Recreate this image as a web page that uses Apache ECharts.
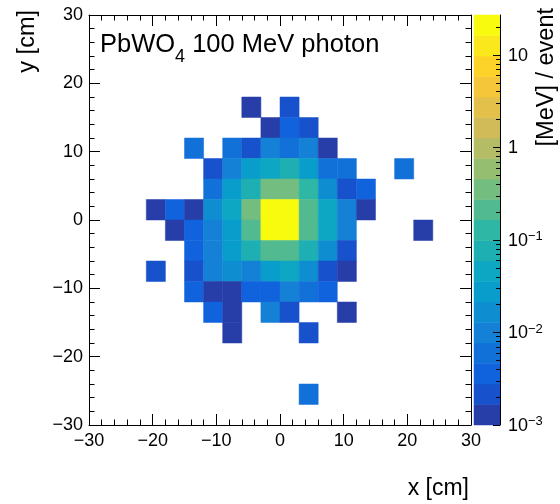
<!DOCTYPE html>
<html><head><meta charset="utf-8">
<script src="https://cdn.jsdelivr.net/npm/echarts@6/dist/echarts.min.js"></script>
<style>html,body{margin:0;padding:0;background:#fff}#c{width:560px;height:504px}</style>
</head><body><div id="c"></div>
<script>
// ---- data (bin lower edges in cm, energy deposit in MeV/event) ----
const binW = 3;
const cellX = [
  -6, 0,
  -3, 0, 3,
  -15, -9, -6, -3, 0, 3, 6,
  -12, -9, -6, -3, 0, 3, 6, 9, 18,
  -12, -9, -6, -3, 0, 3, 6, 9, 12,
  -21, -18, -15, -12, -9, -6, -3, 0, 3, 6, 9, 12,
  -18, -15, -12, -9, -6, -3, 0, 3, 6, 9, 21,
  -15, -12, -9, -6, -3, 0, 3, 6, 9,
  -21, -15, -12, -9, -6, -3, 0, 3, 6, 9,
  -15, -12, -9, -6, -3, 0, 3, 6,
  -12, -9, -3, 0, 9,
  -9, 3,
  3
];
const cellY = [
  15, 15,
  12, 12, 12,
  9, 9, 9, 9, 9, 9, 9,
  6, 6, 6, 6, 6, 6, 6, 6, 6,
  3, 3, 3, 3, 3, 3, 3, 3, 3,
  0, 0, 0, 0, 0, 0, 0, 0, 0, 0, 0, 0,
  -3, -3, -3, -3, -3, -3, -3, -3, -3, -3, -3,
  -6, -6, -6, -6, -6, -6, -6, -6, -6,
  -9, -9, -9, -9, -9, -9, -9, -9, -9, -9,
  -12, -12, -12, -12, -12, -12, -12, -12,
  -15, -15, -15, -15, -15,
  -18, -18,
  -27
];
const cellE = [
  0.0013, 0.0022,
  0.0014, 0.0035, 0.0020,
  0.0058, 0.0062, 0.0021, 0.0098, 0.0060, 0.0101, 0.0013,
  0.0022, 0.0097, 0.028, 0.045, 0.077, 0.027, 0.0059, 0.0061, 0.0060,
  0.0062, 0.029, 0.075, 0.36, 0.34, 0.13, 0.017, 0.0021, 0.0037,
  0.0013, 0.0036, 0.0012, 0.016, 0.047, 0.35, 23.5, 25.1, 0.21, 0.045, 0.0100, 0.0013,
  0.0014, 0.0034, 0.0102, 0.028, 0.22, 24.2, 22.6, 0.20, 0.044, 0.0097, 0.0013,
  0.0037, 0.0099, 0.027, 0.078, 0.21, 0.22, 0.074, 0.0165, 0.0022,
  0.0021, 0.0020, 0.0098, 0.017, 0.0100, 0.028, 0.046, 0.0168, 0.0021, 0.0013,
  0.0036, 0.0013, 0.0012, 0.0035, 0.0037, 0.0099, 0.0061, 0.0036,
  0.0035, 0.0013, 0.0098, 0.0021, 0.0012,
  0.0013, 0.0020,
  0.0060
];
const zMin = 0.001, zMax = 27, nContours = 20;
const zMajorExp = [-3, -2, -1, 0, 1];

// ---- ROOT kBird palette ----
const stops = [0, .125, .25, .375, .5, .625, .75, .875, 1];
const R = [0.2082, 0.0592, 0.0780, 0.0232, 0.1802, 0.5301, 0.8186, 0.9956, 0.9764];
const G = [0.1664, 0.3599, 0.5041, 0.6419, 0.7178, 0.7492, 0.7328, 0.7862, 0.9832];
const B = [0.5293, 0.8684, 0.8385, 0.7914, 0.6425, 0.4662, 0.3499, 0.1968, 0.0539];
function bird(f) {
  let s = 0;
  while (s < stops.length - 2 && f > stops[s + 1]) s++;
  const t = (f - stops[s]) / (stops[s + 1] - stops[s]);
  const c = a => Math.round(255 * (a[s] + (a[s + 1] - a[s]) * t));
  return 'rgb(' + c(R) + ',' + c(G) + ',' + c(B) + ')';
}
const lMin = Math.log10(zMin), lMax = Math.log10(zMax);
const bandColors = [];
for (let k = 0; k < nContours; k++) {
  bandColors.push(bird(Math.floor((k + 0.99) * 255 / nContours) / 254));
}
function colorFor(v) {
  let k = Math.floor((Math.log10(v) - lMin) / (lMax - lMin) * nContours);
  k = Math.max(0, Math.min(nContours - 1, k));
  return bandColors[k];
}
const zMinorExp = [];
for (let d = -3; d <= 1; d++) for (let m = 2; m <= 9; m++) {
  const e = d + Math.log10(m);
  if (e < lMax) zMinorExp.push(e);
}
const bands = bandColors.map((c, k) => [k]);

const FONT = '"Liberation Sans", Arial, Helvetica, sans-serif';
const fmt = v => v < 0 ? '\u2212' + Math.abs(v) : String(v);

function mainAxis(pos, showLabel, isX) {
  return {
    type: 'value', gridIndex: 0, min: -30, max: 30, interval: 10, position: pos, z: 5,
    axisLine: { show: true, onZero: false, lineStyle: { color: '#000', width: 1 } },
    axisTick: { show: true, inside: true, length: 11, lineStyle: { color: '#000', width: 1 } },
    minorTick: { show: true, splitNumber: 5, length: 5.5, lineStyle: { color: '#000', width: 1 } },
    axisLabel: { show: showLabel, fontSize: 18, color: '#000', fontFamily: FONT, margin: isX ? 7 : 6, formatter: fmt },
    splitLine: { show: false }
  };
}

const chart = echarts.init(document.getElementById('c'), null, { renderer: 'canvas' });
chart.setOption({
  animation: false,
  backgroundColor: '#fff',
  grid: [
    { left: 89, top: 15, width: 382, height: 410 },
    { left: 474, top: 15, width: 26, height: 410 }
  ],
  xAxis: [
    mainAxis('bottom', true, true),
    mainAxis('top', false, true),
    { type: 'value', gridIndex: 1, min: 0, max: 1, show: false }
  ],
  yAxis: [
    mainAxis('left', true, false),
    mainAxis('right', false, false),
    {
      type: 'value', gridIndex: 1, min: lMin, max: lMax, position: 'right', z: 5,
      axisLine: { show: true, onZero: false, lineStyle: { color: '#000', width: 1 } },
      axisTick: { show: true, inside: true, length: 7, customValues: zMajorExp, lineStyle: { color: '#000', width: 1 } },
      axisLabel: {
        show: true, customValues: zMajorExp, margin: 8,
        formatter: v => v === 0 ? '{b|1}' : v === 1 ? '{b|10}' : '{b|10}{e|\u2212' + Math.abs(v) + '}',
        rich: {
          b: { fontSize: 18, fontFamily: FONT, color: '#000', lineHeight: 20, verticalAlign: 'bottom' },
          e: { fontSize: 13, fontFamily: FONT, color: '#000', lineHeight: 13, padding: [0, 0, 12, 0], verticalAlign: 'top' }
        }
      },
      splitLine: { show: false }
    },
    {
      type: 'value', gridIndex: 1, min: lMin, max: lMax, position: 'right', z: 5,
      axisLine: { show: false, onZero: false },
      axisTick: { show: true, inside: true, length: 4, customValues: zMinorExp, lineStyle: { color: '#000', width: 1 } },
      axisLabel: { show: false },
      splitLine: { show: false }
    }
  ],
  series: [
    {
      type: 'custom', xAxisIndex: 0, yAxisIndex: 0, z: 2,
      data: cellX.map((x, i) => [x, cellY[i], cellE[i]]),
      encode: { x: 0, y: 1 },
      renderItem: (params, api) => {
        const x0 = api.value(0), y0 = api.value(1), v = api.value(2);
        const p0 = api.coord([x0, y0]);
        const p1 = api.coord([x0 + binW, y0 + binW]);
        const col = colorFor(v);
        return {
          type: 'rect',
          shape: { x: p0[0], y: p1[1], width: p1[0] - p0[0], height: p0[1] - p1[1] },
          style: { fill: col, stroke: col, lineWidth: 0.5 }
        };
      }
    },
    {
      type: 'custom', xAxisIndex: 2, yAxisIndex: 2, z: 2,
      data: bands,
      renderItem: (params, api) => {
        const k = api.value(0);
        const lo = lMin + (lMax - lMin) * k / nContours;
        const hi = lMin + (lMax - lMin) * (k + 1) / nContours;
        const p0 = api.coord([0, lo]);
        const p1 = api.coord([1, hi]);
        return {
          type: 'rect',
          shape: { x: p0[0], y: p1[1], width: p1[0] - p0[0], height: p0[1] - p1[1] },
          style: { fill: bandColors[k], stroke: bandColors[k], lineWidth: 0.5 }
        };
      }
    }
  ],
  graphic: [
    {
      type: 'text', x: 100, y: 32,
      style: {
        text: '{a|PbWO}{s|4}{a| 100 MeV photon}',
        verticalAlign: 'top', align: 'left',
        rich: {
          a: { fontSize: 25.5, fontFamily: FONT, fill: '#000', lineHeight: 30, verticalAlign: 'top' },
          s: { fontSize: 18, fontFamily: FONT, fill: '#000', lineHeight: 18, padding: [16, 0, 0, 0], verticalAlign: 'top' }
        }
      }
    },
    {
      type: 'text', x: 469, y: 489,
      style: { text: 'x [cm]', fontSize: 23, fontFamily: FONT, fill: '#000', align: 'right', verticalAlign: 'middle' }
    },
    {
      type: 'text', x: 28, y: 10, rotation: Math.PI / 2,
      style: { text: 'y [cm]', fontSize: 23.5, fontFamily: FONT, fill: '#000', align: 'right', verticalAlign: 'middle' }
    },
    {
      type: 'text', x: 547, y: 8, rotation: Math.PI / 2,
      style: { text: '[MeV] / event', fontSize: 23.5, fontFamily: FONT, fill: '#000', align: 'right', verticalAlign: 'middle' }
    }
  ]
});
</script>
</body></html>
